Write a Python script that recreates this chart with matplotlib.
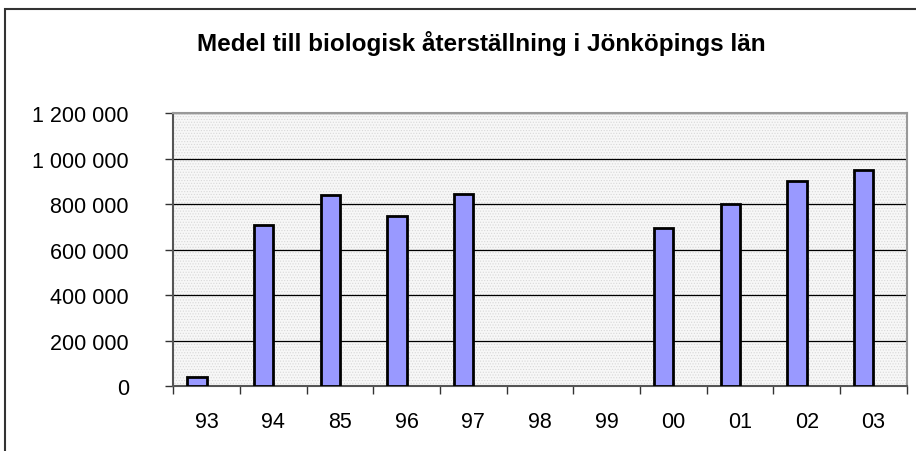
import matplotlib.pyplot as plt
from matplotlib.patches import Rectangle
import numpy as np

plt.rcParams['font.family'] = ['Liberation Sans', 'DejaVu Sans']
plt.rcParams['hatch.color'] = '#d4d4d4'
plt.rcParams['hatch.linewidth'] = 0.5

years = ["93", "94", "85", "96", "97", "98", "99", "00", "01", "02", "03"]
amounts = [40000, 709000, 839000, 747000, 843000, 0, 0, 694000, 801000, 901000, 950000]
yticks = [0, 200000, 400000, 600000, 800000, 1000000, 1200000]

fig = plt.figure(figsize=(9.16, 4.52), dpi=100)

# outer chart frame (cropped at right and bottom like the original)
fig.patches.append(Rectangle((5 / 916, -0.1), 1.2, (442 / 452) + 0.1,
                             transform=fig.transFigure, fill=False,
                             edgecolor='#333333', linewidth=1.5))

ax = fig.add_axes([173.3 / 916, 64.7 / 452, 733.5 / 916, 273.3 / 452])
ax.set_facecolor('#f7f7f7')
bg = Rectangle((0, 0), 1, 1, transform=ax.transAxes, facecolor='none',
               hatch='......', edgecolor='#d8d8d8', linewidth=0, zorder=0)
ax.add_patch(bg)

x = np.arange(len(years))
vals = np.array(amounts, dtype=float)
shown = vals > 0
bar_w = 0.29
ax.bar(x[shown] - 0.145, vals[shown], width=bar_w, color='#9999ff', edgecolor='black',
       linewidth=2.0, zorder=3)

ax.set_xlim(-0.5, len(years) - 0.5)
ax.set_ylim(0, 1200000)
ax.set_yticks(yticks)
ax.set_yticklabels([f"{v:,}".replace(",", " ") for v in yticks], fontsize=15.5)
ax.yaxis.grid(True, color='black', linewidth=0.9, zorder=1)
ax.set_axisbelow(True)

ax.set_xticks(x)
ax.set_xticklabels(years, fontsize=15.5)
ax.set_xticks(np.arange(-0.5, len(years)), minor=True)
ax.tick_params(axis='x', which='major', length=0, pad=17.5)
ax.tick_params(axis='x', which='minor', length=6, width=1, color='#333333', direction='out')
ax.tick_params(axis='y', length=6, width=1, color='#333333', pad=26)

for side in ['top', 'right']:
    ax.spines[side].set_color('#999999')
    ax.spines[side].set_linewidth(1.5)
ax.spines['left'].set_color('#555555')
ax.spines['left'].set_linewidth(1.5)
ax.spines['bottom'].set_color('#555555')
ax.spines['bottom'].set_linewidth(1.5)

fig.text(481 / 916, 1 - 44 / 452, "Medel till biologisk återställning i Jönköpings län",
         ha='center', va='center', fontsize=17.5, fontweight='bold')

fig.savefig("out.png", dpi=100)
